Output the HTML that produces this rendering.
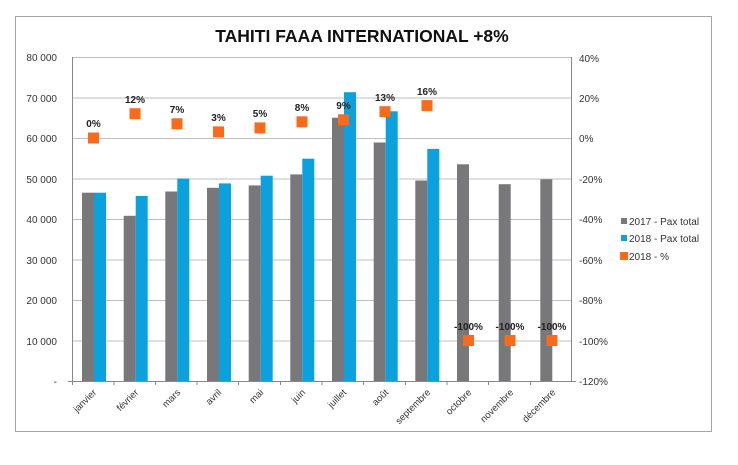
<!DOCTYPE html>
<html><head><meta charset="utf-8"><style>
body{margin:0;background:#fff}
svg text{font-family:"Liberation Sans",sans-serif}
</style></head><body>
<svg width="738" height="460" xmlns="http://www.w3.org/2000/svg">
<rect x="0" y="0" width="738" height="460" fill="#fff"/>
<rect x="15.5" y="16.5" width="696" height="415" fill="#fff" stroke="#a6a6a6" stroke-width="1"/>
<text x="362" y="42" font-size="17.5" font-weight="bold" text-anchor="middle" fill="#111">TAHITI FAAA INTERNATIONAL +8%</text>
<g stroke="#bfbfbf" stroke-width="1">
<line x1="72" y1="57.5" x2="572" y2="57.5"/><line x1="72" y1="98" x2="572" y2="98"/><line x1="72" y1="138.5" x2="572" y2="138.5"/><line x1="72" y1="179" x2="572" y2="179"/><line x1="72" y1="219.5" x2="572" y2="219.5"/><line x1="72" y1="260" x2="572" y2="260"/><line x1="72" y1="300.5" x2="572" y2="300.5"/><line x1="72" y1="341" x2="572" y2="341"/>
</g>
<g stroke="#888" stroke-width="1">
<line x1="72.5" y1="57" x2="72.5" y2="381"/><line x1="571.5" y1="57" x2="571.5" y2="381"/><line x1="68" y1="381.5" x2="576" y2="381.5"/>
<line x1="72.5" y1="381" x2="72.5" y2="385"/><line x1="114" y1="381" x2="114" y2="385"/><line x1="155.5" y1="381" x2="155.5" y2="385"/><line x1="197" y1="381" x2="197" y2="385"/><line x1="238.5" y1="381" x2="238.5" y2="385"/><line x1="280.5" y1="381" x2="280.5" y2="385"/><line x1="322" y1="381" x2="322" y2="385"/><line x1="363.5" y1="381" x2="363.5" y2="385"/><line x1="405.5" y1="381" x2="405.5" y2="385"/><line x1="447" y1="381" x2="447" y2="385"/><line x1="488.5" y1="381" x2="488.5" y2="385"/><line x1="530.5" y1="381" x2="530.5" y2="385"/>
</g>
<g fill="#78787a">
<rect x="82" y="192.7" width="12" height="188.3"/><rect x="123.7" y="215.8" width="12" height="165.2"/><rect x="165.3" y="191.5" width="12" height="189.5"/><rect x="207" y="187.8" width="12" height="193.2"/><rect x="248.7" y="185.4" width="12" height="195.6"/><rect x="290.3" y="174.4" width="12" height="206.6"/><rect x="332" y="117.7" width="12" height="263.3"/><rect x="373.7" y="142.5" width="12" height="238.5"/><rect x="415.3" y="180.5" width="12" height="200.5"/><rect x="457" y="164.3" width="12" height="216.7"/><rect x="498.7" y="184.2" width="12" height="196.8"/><rect x="540.3" y="179.3" width="12" height="201.7"/>
</g>
<g fill="#0aa1dc">
<rect x="94" y="192.7" width="12" height="188.3"/><rect x="135.7" y="195.9" width="12" height="185.1"/><rect x="177.3" y="178.5" width="12" height="202.5"/><rect x="219" y="183.4" width="12" height="197.6"/><rect x="260.7" y="175.7" width="12" height="205.3"/><rect x="302.3" y="158.7" width="12" height="222.3"/><rect x="344" y="92.2" width="12" height="288.8"/><rect x="385.7" y="111.3" width="12" height="269.7"/><rect x="427.3" y="148.9" width="12" height="232.1"/>
</g>
<g fill="#f96a1b">
<rect x="88" y="132.5" width="11" height="11"/><rect x="129.5" y="108.2" width="11" height="11"/><rect x="171.5" y="118.3" width="11" height="11"/><rect x="213" y="126.4" width="11" height="11"/><rect x="254.5" y="122.4" width="11" height="11"/><rect x="296.5" y="116.3" width="11" height="11"/><rect x="338" y="114.3" width="11" height="11"/><rect x="379.5" y="106.2" width="11" height="11"/><rect x="421.5" y="100.1" width="11" height="11"/><rect x="463" y="335" width="11" height="11"/><rect x="504.5" y="335" width="11" height="11"/><rect x="546.5" y="335" width="11" height="11"/>
</g>
<g font-size="10" font-weight="bold" fill="#222" text-anchor="middle">
<text x="93.5" y="127">0%</text><text x="135" y="103">12%</text><text x="177" y="113">7%</text><text x="218.5" y="121">3%</text><text x="260" y="117">5%</text><text x="302" y="111">8%</text><text x="343.5" y="109">9%</text><text x="385" y="101">13%</text><text x="427" y="95">16%</text><text x="468.5" y="330">-100%</text><text x="510" y="330">-100%</text><text x="552" y="330">-100%</text>
</g>
<g font-size="10" fill="#333" text-anchor="end">
<text x="57" y="61">80 000</text><text x="57" y="102">70 000</text><text x="57" y="142">60 000</text><text x="57" y="183">50 000</text><text x="57" y="223">40 000</text><text x="57" y="264">30 000</text><text x="57" y="304">20 000</text><text x="57" y="345">10 000</text><text x="57" y="385">-</text>
</g>
<g font-size="10" fill="#333">
<text x="579" y="62">40%</text><text x="579" y="102">20%</text><text x="579" y="142">0%</text><text x="579" y="183">-20%</text><text x="579" y="223">-40%</text><text x="579" y="264">-60%</text><text x="579" y="304">-80%</text><text x="579" y="345">-100%</text><text x="579" y="385">-120%</text>
</g>
<g font-size="9.5" fill="#333" text-anchor="end">
<text transform="translate(97,393) rotate(-45)">janvier</text>
<text transform="translate(139,393) rotate(-45)">février</text>
<text transform="translate(181,393) rotate(-45)">mars</text>
<text transform="translate(222,393) rotate(-45)">avril</text>
<text transform="translate(264,393) rotate(-45)">mai</text>
<text transform="translate(306,393) rotate(-45)">juin</text>
<text transform="translate(347,393) rotate(-45)">juillet</text>
<text transform="translate(389,393) rotate(-45)">août</text>
<text transform="translate(431,393) rotate(-45)">septembre</text>
<text transform="translate(472,393) rotate(-45)">octobre</text>
<text transform="translate(514,393) rotate(-45)">novembre</text>
<text transform="translate(556,393) rotate(-45)">décembre</text>
</g>
<rect x="621" y="218" width="6" height="6" fill="#78787a"/>
<rect x="621" y="235" width="6" height="6" fill="#0aa1dc"/>
<rect x="620" y="252" width="8" height="8" fill="#f96a1b"/>
<g font-size="10" fill="#333">
<text x="629" y="225">2017 -  Pax total</text>
<text x="629" y="242">2018 -  Pax total</text>
<text x="629" y="260">2018 - %</text>
</g>
</svg>
</body></html>
